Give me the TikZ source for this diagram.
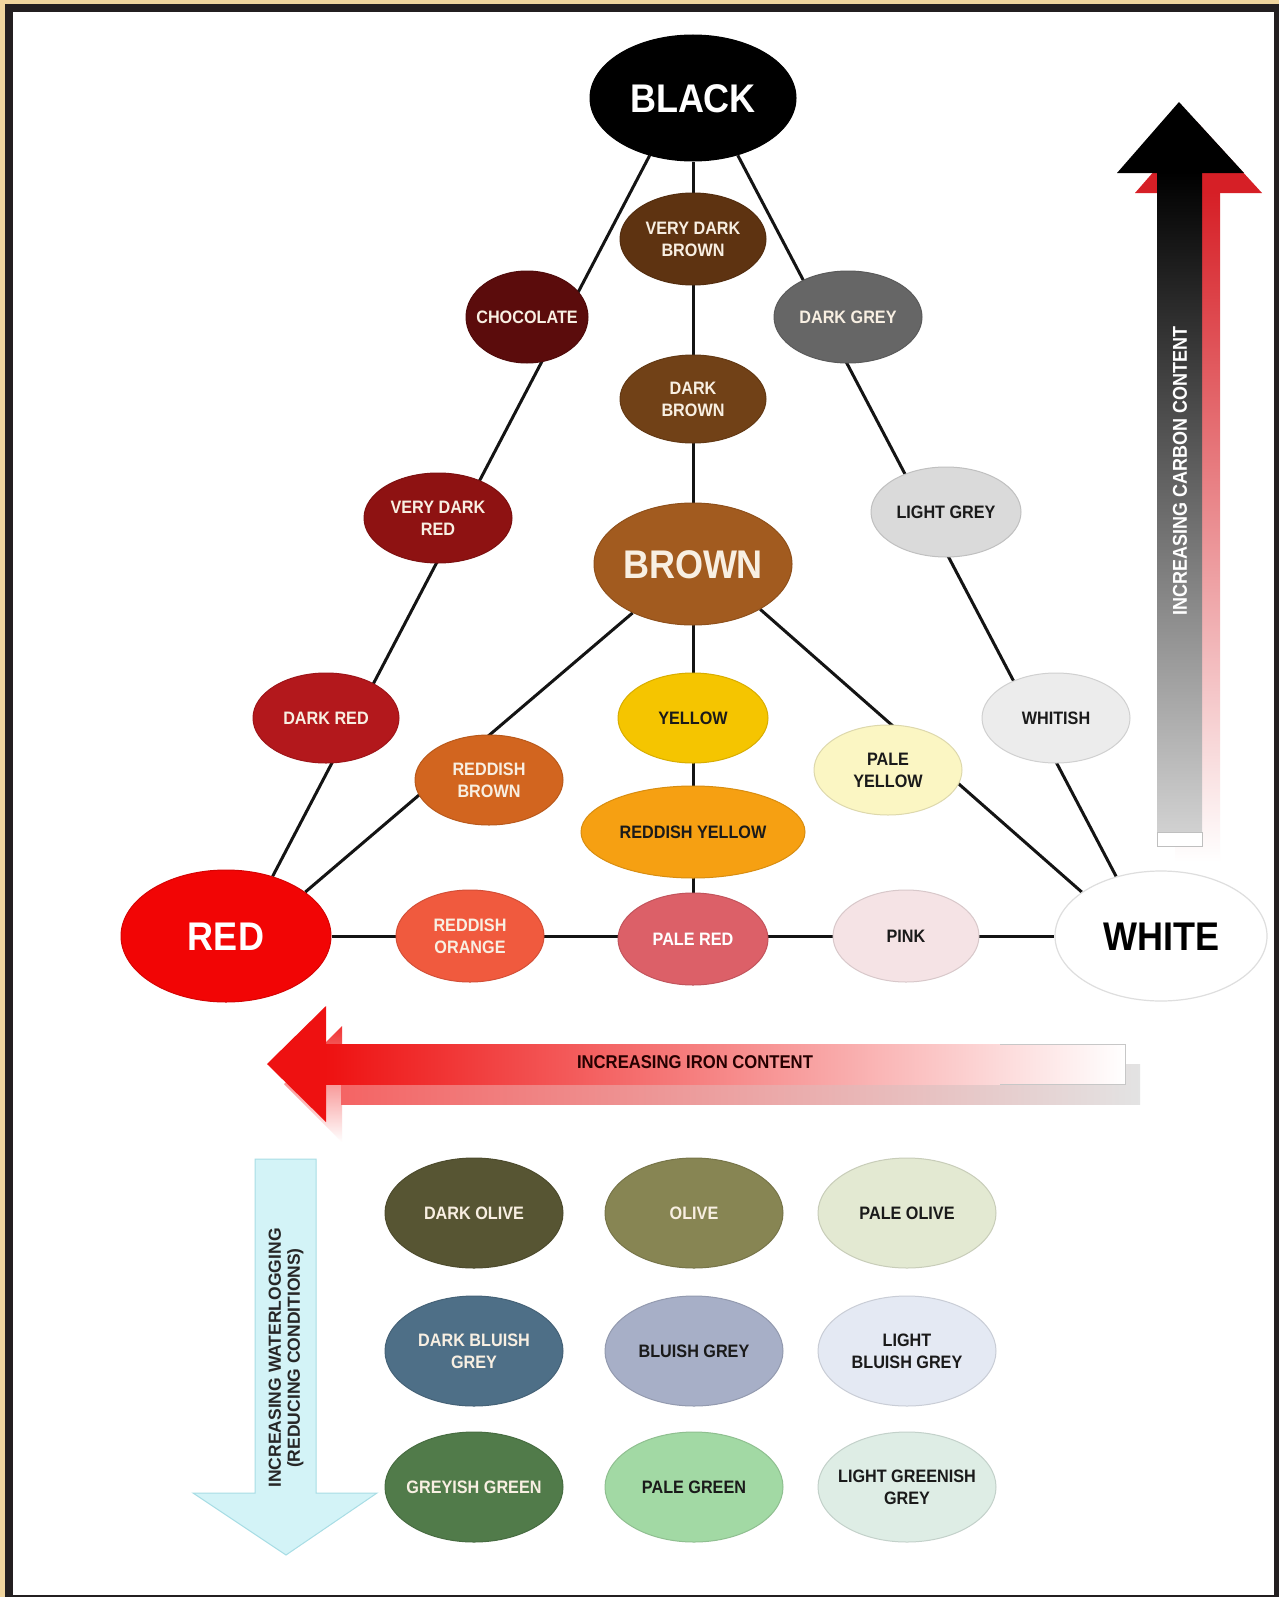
\documentclass[tikz,border=0pt]{standalone}
\usepackage{fontspec}
\setmainfont{Liberation Sans}
\newfontfamily\labf{Liberation Sans}[FakeStretch=0.9]
\usetikzlibrary{shapes.geometric}
\pgfdeclarelayer{framelayer}
\pgfdeclarelayer{lineslayer}
\pgfsetlayers{framelayer,lineslayer,main}

\definecolor{tanc}{HTML}{F0D59E}
\definecolor{framec}{HTML}{231F20}
\definecolor{txtL}{HTML}{F8EFE2}
\definecolor{txtD}{HTML}{1A1A1A}
\definecolor{cVDB}{HTML}{5E3311}
\definecolor{cDB}{HTML}{714117}
\definecolor{cCHOC}{HTML}{5B0C0C}
\definecolor{cDG}{HTML}{666666}
\definecolor{cVDR}{HTML}{8E1212}
\definecolor{cLG}{HTML}{DADADA}
\definecolor{cBR}{HTML}{A25B1F}
\definecolor{cDR}{HTML}{B3181C}
\definecolor{cYEL}{HTML}{F5C500}
\definecolor{cWHS}{HTML}{ECECEC}
\definecolor{cRB}{HTML}{D2651F}
\definecolor{cPY}{HTML}{FBF6C3}
\definecolor{cRY}{HTML}{F6A012}
\definecolor{cRED}{HTML}{F20505}
\definecolor{cRO}{HTML}{F05A3E}
\definecolor{cPR}{HTML}{DC6068}
\definecolor{cPK}{HTML}{F5E3E5}
\definecolor{cDO}{HTML}{575533}
\definecolor{cOL}{HTML}{878553}
\definecolor{cPO}{HTML}{E3E9D2}
\definecolor{cDBG}{HTML}{4E6F87}
\definecolor{cBG}{HTML}{A7AFC7}
\definecolor{cLBG}{HTML}{E4E9F3}
\definecolor{cGG}{HTML}{517B4A}
\definecolor{cPG}{HTML}{A2D9A4}
\definecolor{cLGG}{HTML}{DEEDE5}
\definecolor{arrred}{HTML}{EE1111}
\definecolor{carbred}{HTML}{D61F26}
\definecolor{waterc}{HTML}{D3F3F7}
\definecolor{waterb}{HTML}{A8DDE5}

% single-line label, caps centred on the node centre
\newcommand\onel[2][6.45bp]{\makebox[0pt]{\raisebox{-#1}[0pt][0pt]{#2}}}
% two-line label (18bp type, 21.5bp leading), caps block centred
\newcommand\twol[1]{\makebox[0pt]{\raisebox{4.3bp}[0pt][0pt]{\begin{tabular}[t]{@{}c@{}}#1\end{tabular}}}}

\tikzset{
  blob/.style={ellipse, inner sep=0pt, draw=#1!88!black, line width=1bp, fill=#1},
  sm/.style={font=\labf\bfseries\fontsize{18bp}{21.5bp}\selectfont},
  big/.style={font=\labf\bfseries\fontsize{40bp}{44bp}\selectfont},
  sz/.style 2 args={minimum width=#1bp, minimum height=#2bp},
  light/.style={text=txtL},
  dark/.style={text=txtD},
  link/.style={line width=3bp, color=black!92},
}

\begin{document}
\begin{tikzpicture}[x=1bp, y=-1bp]
\useasboundingbox (0,0) rectangle (1279,1597);

% ---------- nodes: triangle ----------
\node[blob=black, sz={206}{126}, big, text=white] (black) at (693,98) {\onel[14.3bp]{BLACK}};
\node[blob=cVDB, sz={146}{92}, sm, light] (vdb) at (693,239) {\twol{VERY DARK\\BROWN}};
\node[blob=cCHOC, sz={122}{92}, sm, light] (choc) at (527,317) {\onel{CHOCOLATE}};
\node[blob=cDG, sz={148}{92}, sm, light] (dgrey) at (848,317) {\onel{DARK GREY}};
\node[blob=cDB, sz={146}{88}, sm, light] (dbrown) at (693,399) {\twol{DARK\\BROWN}};
\node[blob=cVDR, sz={148}{90}, sm, light] (vdred) at (438,518) {\twol{VERY DARK\\RED}};
\node[blob=cLG, sz={150}{90}, sm, dark] (lgrey) at (946,512) {\onel{LIGHT GREY}};
\node[blob=cBR, sz={198}{122}, big, light] (brown) at (693,564) {\onel[14.3bp]{BROWN}};
\node[blob=cDR, sz={146}{90}, sm, light] (dred) at (326,718) {\onel{DARK RED}};
\node[blob=cYEL, sz={150}{90}, sm, dark] (yellow) at (693,718) {\onel{YELLOW}};
\node[blob=cWHS, sz={148}{90}, sm, dark] (whitish) at (1056,718) {\onel{WHITISH}};
\node[blob=cRB, sz={148}{90}, sm, light] (rbrown) at (489,780) {\twol{REDDISH\\BROWN}};
\node[blob=cPY, sz={148}{90}, sm, dark] (pyellow) at (888,770) {\twol{PALE\\YELLOW}};
\node[blob=cRY, sz={224}{92}, sm, dark] (ryellow) at (693,832) {\onel{REDDISH YELLOW}};
\node[blob=cRED, sz={210}{132}, big, text=white] (red) at (226,936) {\onel[14.3bp]{RED}};
\node[blob=cRO, sz={148}{92}, sm, light] (rorange) at (470,936) {\twol{REDDISH\\ORANGE}};
\node[blob=cPR, sz={150}{92}, sm, text=white] (pred) at (693,939) {\onel{PALE RED}};
\node[blob=cPK, sz={146}{92}, sm, dark] (pink) at (906,936) {\onel{PINK}};
\node[ellipse, inner sep=0pt, fill=white, draw=black!13, line width=1.2bp, sz={212}{130}, big, text=black] (white) at (1161,936) {\onel[14.3bp]{WHITE}};

% ---------- nodes: waterlogged colours ----------
\node[blob=cDO, sz={178}{110}, sm, light] (dolive) at (474,1213) {\onel{DARK OLIVE}};
\node[blob=cOL, sz={178}{110}, sm, light] (olive) at (694,1213) {\onel{OLIVE}};
\node[blob=cPO, sz={178}{110}, sm, dark] (polive) at (907,1213) {\onel{PALE OLIVE}};
\node[blob=cDBG, sz={178}{110}, sm, light] (dbgrey) at (474,1351) {\twol{DARK BLUISH\\GREY}};
\node[blob=cBG, sz={178}{110}, sm, dark] (bgrey) at (694,1351) {\onel{BLUISH GREY}};
\node[blob=cLBG, sz={178}{110}, sm, dark] (lbgrey) at (907,1351) {\twol{LIGHT\\BLUISH GREY}};
\node[blob=cGG, sz={178}{110}, sm, light] (ggreen) at (474,1487) {\onel{GREYISH GREEN}};
\node[blob=cPG, sz={178}{110}, sm, dark] (pgreen) at (694,1487) {\onel{PALE GREEN}};
\node[blob=cLGG, sz={178}{110}, sm, dark] (lggrey) at (907,1487) {\twol{LIGHT GREENISH\\GREY}};

% ---------- frame ----------
\begin{pgfonlayer}{framelayer}
  \fill[tanc] (0,0) rectangle (1279,1597);
  \fill[framec] (5,4) rectangle (1279,1597);
  \fill[white] (13,12) rectangle (1274,1595);
\end{pgfonlayer}

% ---------- connectors ----------
\begin{pgfonlayer}{lineslayer}
  \draw[link] (black.233) -- (red.52);
  \draw[link] (black.south) -- (pred.north);
  \draw[link] (black.308) -- (white.127);
  \draw[link] (red.east) -- (white.west);
  \draw[link] (red.29) -- (brown.219);
  \draw[link] (brown.326) -- (white.151);
\end{pgfonlayer}

% ---------- carbon arrow ----------
% red shadow
\fill[carbred] (1197,122) -- (1262,193) -- (1135,193) -- cycle;
\shade[top color=carbred, middle color=carbred!50, bottom color=white] (1175,192) rectangle (1220,862);
% black arrow
\fill[black] (1179,102) -- (1244,173) -- (1117,173) -- cycle;
\shade[top color=black, middle color=black!58, bottom color=black!18] (1157,172) rectangle (1202,832);
\filldraw[fill=white, draw=black!25, line width=0.8bp] (1157,832) rectangle (1202,846);
\node[rotate=90, font=\labf\bfseries\fontsize{20bp}{24bp}\selectfont, text=white] (carbontxt) at (1180,471) {INCREASING CARBON CONTENT};

% ---------- iron arrow ----------
% shadow
\shade[top color=arrred!85, bottom color=white] (284,1084) -- (342,1026) -- (342,1142) -- cycle;
\shade[left color=arrred!65, middle color=arrred!22, right color=black!11] (341,1064) rectangle (1140,1104);
% main
\fill[arrred] (267,1064) -- (326,1006) -- (326,1122) -- cycle;
\shade[left color=arrred, middle color=arrred!45, right color=white] (325,1044) rectangle (1125,1084);
\draw[black!22, line width=0.8bp] (1000,1044) -- (1125,1044) -- (1125,1084) -- (1000,1084);
\node[font=\labf\bfseries\fontsize{18.5bp}{22bp}\selectfont, text=black!85!red] (irontxt) at (695,1062) {INCREASING IRON CONTENT};

% ---------- waterlogging arrow ----------
\filldraw[fill=waterc, draw=waterb, line width=1bp]
  (255,1159) -- (316,1159) -- (316,1493) -- (377,1493) -- (286,1555) -- (193,1493) -- (255,1493) -- cycle;
\node[rotate=90, font=\bfseries\fontsize{17.5bp}{19bp}\selectfont, text=black!85, align=center] (watertxt) at (286,1358) {INCREASING WATERLOGGING\\(REDUCING CONDITIONS)};

\end{tikzpicture}
\end{document}
